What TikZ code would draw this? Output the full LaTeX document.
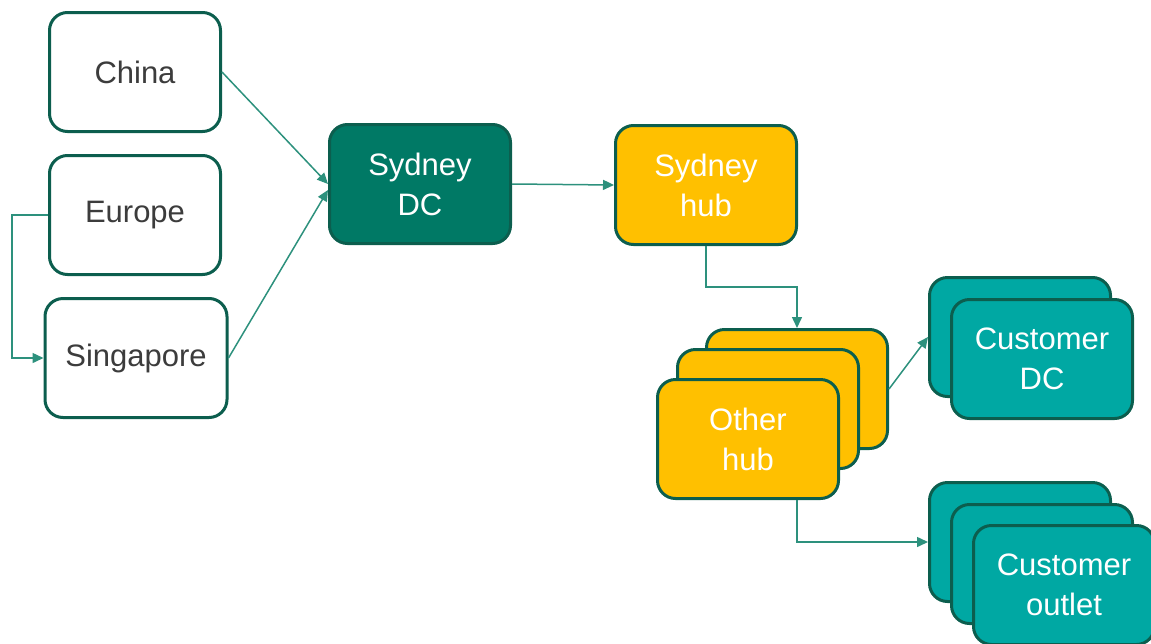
\documentclass[tikz,border=0pt]{standalone}
\usepackage{fontspec}
\setmainfont{Liberation Sans}
\usetikzlibrary{arrows.meta,positioning}
\definecolor{edgeGreen}{RGB}{12,94,78}
\definecolor{dcGreen}{RGB}{0,121,101}
\definecolor{hubYellow}{RGB}{255,192,0}
\definecolor{custTeal}{RGB}{0,168,163}
\definecolor{lineTeal}{RGB}{45,145,125}
\definecolor{txtGray}{RGB}{60,60,60}

\begin{document}
\begin{tikzpicture}[
    x=0.5pt, y=-0.5pt,
    box/.style ={rectangle, rounded corners=9pt, draw=edgeGreen, line width=1.5pt,
                 minimum width=90.5pt, minimum height=59.5pt, inner sep=0pt,
                 align=center, font=\fontsize{15.5}{20}\selectfont},
    src/.style ={box, fill=white, text=txtGray, minimum width=85.5pt},
    dc/.style  ={box, fill=dcGreen, text=white},
    hub/.style ={box, fill=hubYellow, text=white},
    cust/.style={box, fill=custTeal, text=white},
    conn/.style={-{Triangle[length=5.5pt,width=5pt]}, draw=lineTeal,
                 line width=0.75pt}
]
\useasboundingbox (0,0) rectangle (1151,643);

% sources
\node[src] (china)     at (135,72)  {China};
\node[src] (europe)    at (135,215) {Europe};
\node[src, minimum width=91pt] (singapore) at (136,358) {Singapore};

% Sydney
\node[dc]  (sydDC)  at (420,184) {Sydney\\DC};
\node[hub] (sydHub) at (706,185) {Sydney\\hub};

% stacked hubs, back to front
\node[hub] (hubA) at (797,389) {};
\node[hub] (hubB) at (768,409) {};
\node[hub] (hubC) at (748,439) {Other\\hub};

% customers
\node[cust] (custA) at (1020,337) {};
\node[cust] (custB) at (1042,359) {Customer\\DC};

\node[cust] (outA) at (1020,542) {};
\node[cust] (outB) at (1042,564) {};
\node[cust] (outC) at (1064,585) {Customer\\outlet};

% flows
\draw[conn] (china.east) -- (sydDC.west);
\draw[conn] (singapore.east) -- ([yshift=-3pt]sydDC.west);
\draw[conn] (europe.west) -- ++(-36,0) |- (singapore.west);
\draw[conn] (sydDC.east) -- (sydHub.west);
\draw[conn] (sydHub.south) -- ++(0,41) -| (hubA.north);
\draw[conn] (hubA.east) -- (custA.west);
\draw[conn] ([xshift=24.5pt]hubC.south) |- (outA.west);
\end{tikzpicture}
\end{document}
